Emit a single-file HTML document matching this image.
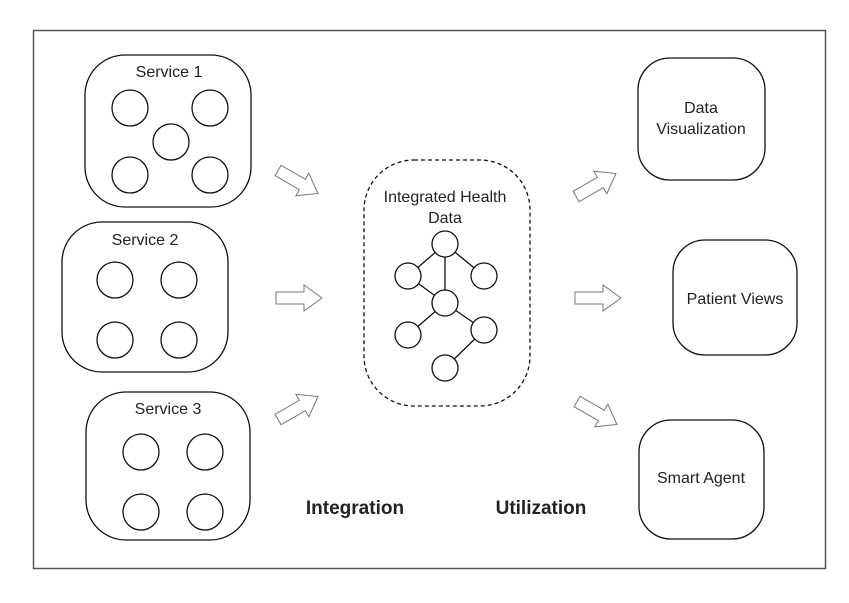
<!DOCTYPE html>
<html><head><meta charset="utf-8"><style>
html,body{margin:0;padding:0;background:#fff}
</style></head><body>
<svg width="849" height="598" viewBox="0 0 849 598" xmlns="http://www.w3.org/2000/svg" font-family="Liberation Sans, sans-serif">
<defs>
<polygon id="arr" points="-23,-6 5,-6 5,-13 23,0 5,13 5,6 -23,6" fill="#fff" stroke="#777" stroke-width="1"/>
</defs>
<rect x="33.5" y="30.5" width="792" height="538" fill="#fff" stroke="#555" stroke-width="1.5"/>
<g fill="none" stroke="#111" stroke-width="1.3">
<rect x="85" y="55" width="166" height="152" rx="40"/>
<circle cx="130" cy="108" r="18"/><circle cx="210" cy="108" r="18"/><circle cx="171" cy="142" r="18"/><circle cx="130" cy="175" r="18"/><circle cx="210" cy="175" r="18"/>
<rect x="62" y="222" width="166" height="150" rx="40"/>
<circle cx="115" cy="280" r="18"/><circle cx="179" cy="280" r="18"/><circle cx="115" cy="340" r="18"/><circle cx="179" cy="340" r="18"/>
<rect x="86" y="392" width="164" height="148" rx="40"/>
<circle cx="141" cy="452" r="18"/><circle cx="205" cy="452" r="18"/><circle cx="141" cy="512" r="18"/><circle cx="205" cy="512" r="18"/>
<rect x="364" y="160" width="166" height="246" rx="50" stroke-dasharray="4,3"/>
<line x1="445" y1="244" x2="445" y2="303"/><line x1="445" y1="244" x2="408" y2="276"/><line x1="445" y1="244" x2="484" y2="276"/>
<line x1="408" y1="276" x2="445" y2="303"/><line x1="445" y1="303" x2="408" y2="335"/><line x1="445" y1="303" x2="484" y2="330"/><line x1="484" y1="330" x2="445" y2="368"/>
</g>
<g fill="#fff" stroke="#111" stroke-width="1.3">
<circle cx="445" cy="244" r="13"/><circle cx="408" cy="276" r="13"/><circle cx="484" cy="276" r="13"/><circle cx="445" cy="303" r="13"/><circle cx="408" cy="335" r="13"/><circle cx="484" cy="330" r="13"/><circle cx="445" cy="368" r="13"/>
</g>
<g fill="none" stroke="#111" stroke-width="1.3">
<rect x="638" y="58" width="127" height="122" rx="32"/>
<rect x="673" y="240" width="124" height="115" rx="32"/>
<rect x="639" y="420" width="125" height="119" rx="32"/>
</g>
<use href="#arr" transform="translate(298,182) rotate(30)"/>
<use href="#arr" transform="translate(299,298)"/>
<use href="#arr" transform="translate(298,408) rotate(-30)"/>
<use href="#arr" transform="translate(596,185) rotate(-30)"/>
<use href="#arr" transform="translate(598,298)"/>
<use href="#arr" transform="translate(597,413) rotate(30)"/>
<g font-size="16" fill="#222" text-anchor="middle">
<text x="169" y="77">Service 1</text>
<text x="145" y="245">Service 2</text>
<text x="168" y="414">Service 3</text>
<text x="445" y="202">Integrated Health</text>
<text x="445" y="223">Data</text>
<text x="701" y="113">Data</text>
<text x="701" y="134">Visualization</text>
<text x="735" y="304">Patient Views</text>
<text x="701" y="483">Smart Agent</text>
</g>
<g font-size="19" font-weight="bold" fill="#222" text-anchor="middle">
<text x="355" y="514">Integration</text>
<text x="541" y="514">Utilization</text>
</g>
</svg>
</body></html>
